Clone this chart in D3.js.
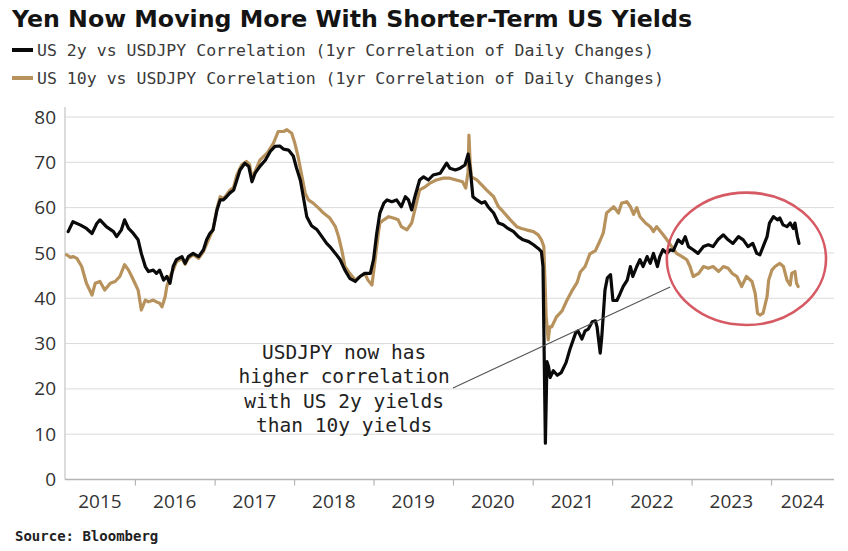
<!DOCTYPE html>
<html>
<head>
<meta charset="utf-8">
<script src="https://cdn.jsdelivr.net/npm/d3@7"></script>
<style>
  html, body { margin: 0; padding: 0; background: #ffffff; }
  svg { display: block; }
</style>
</head>
<body>
<svg id="chart" width="848" height="551"></svg>
<script>
// ---------------- DATA ----------------
const title = "Yen Now Moving More With Shorter-Term US Yields";
const seriesNames = [
  "US 2y vs USDJPY Correlation (1yr Correlation of Daily Changes)",
  "US 10y vs USDJPY Correlation (1yr Correlation of Daily Changes)"
];
const sourceText = "Source: Bloomberg";
const yTicks = [0, 10, 20, 30, 40, 50, 60, 70, 80];
const xYears = [2015, 2016, 2017, 2018, 2019, 2020, 2021, 2022, 2023, 2024];
const annotationLines = ["USDJPY now has", "higher correlation", "with US 2y yields", "than 10y yields"];

// [decimal year, correlation]
const us2y = [
  [2015.16,54.7],[2015.22,56.9],[2015.31,56.2],[2015.39,55.4],[2015.46,54.3],[2015.52,56.5],[2015.56,57.3],
  [2015.64,55.8],[2015.73,54.7],[2015.77,53.6],[2015.83,55.1],[2015.87,57.3],[2015.92,55.4],[2015.98,54.3],
  [2016.04,52.9],[2016.08,49.9],[2016.13,47.0],[2016.17,45.9],[2016.23,46.2],[2016.27,45.5],[2016.31,46.2],
  [2016.36,44.0],[2016.40,44.8],[2016.44,43.3],[2016.48,47.0],[2016.52,48.5],[2016.59,49.2],[2016.63,47.7],
  [2016.67,49.2],[2016.73,49.9],[2016.80,49.2],[2016.86,50.7],[2016.90,52.9],[2016.94,54.3],[2016.98,55.1],
  [2017.03,59.5],[2017.07,61.7],[2017.11,61.7],[2017.15,62.4],[2017.19,63.2],[2017.24,63.9],[2017.28,66.1],
  [2017.32,68.3],[2017.38,69.8],[2017.43,69.1],[2017.47,65.7],[2017.51,67.6],[2017.57,69.1],[2017.64,70.5],
  [2017.70,72.4],[2017.76,73.5],[2017.82,73.6],[2017.87,72.9],[2017.93,72.7],[2017.99,71.4],[2018.03,68.8],
  [2018.08,66.0],[2018.12,62.0],[2018.16,58.0],[2018.22,56.0],[2018.29,55.1],[2018.35,53.6],[2018.41,52.1],
  [2018.45,51.4],[2018.52,49.9],[2018.58,48.5],[2018.64,46.2],[2018.70,44.4],[2018.77,43.7],[2018.83,44.8],
  [2018.89,45.5],[2018.96,45.5],[2019.00,48.5],[2019.04,54.3],[2019.08,58.8],[2019.13,61.0],[2019.17,61.7],
  [2019.23,61.3],[2019.29,61.7],[2019.35,60.2],[2019.40,62.4],[2019.44,61.7],[2019.48,59.5],[2019.52,62.4],
  [2019.58,66.1],[2019.63,66.8],[2019.69,66.1],[2019.75,67.2],[2019.84,67.6],[2019.92,69.8],[2019.96,68.7],
  [2020.03,68.3],[2020.09,68.7],[2020.15,69.4],[2020.19,71.8],[2020.22,67.9],[2020.25,62.4],[2020.30,61.7],
  [2020.36,61.0],[2020.40,61.3],[2020.44,60.2],[2020.51,58.8],[2020.57,56.6],[2020.63,56.2],[2020.69,55.4],
  [2020.76,54.7],[2020.82,53.6],[2020.88,52.9],[2020.95,52.5],[2021.01,51.8],[2021.07,51.0],[2021.11,50.3],
  [2021.13,47.0],[2021.16,8.0],[2021.18,26.0],[2021.20,24.9],[2021.22,22.5],[2021.26,24.0],[2021.31,23.0],
  [2021.36,23.6],[2021.42,25.8],[2021.47,28.8],[2021.54,32.3],[2021.57,32.8],[2021.62,31.0],[2021.66,32.8],
  [2021.70,33.2],[2021.75,34.8],[2021.79,35.0],[2021.81,33.7],[2021.85,27.9],[2021.87,31.5],[2021.91,41.8],
  [2021.94,44.5],[2021.98,45.2],[2022.01,39.5],[2022.06,39.5],[2022.10,41.0],[2022.14,42.6],[2022.19,44.0],
  [2022.23,47.0],[2022.26,44.8],[2022.31,47.0],[2022.35,48.5],[2022.39,47.0],[2022.44,49.2],[2022.48,47.7],
  [2022.52,49.9],[2022.57,47.0],[2022.60,49.2],[2022.64,50.7],[2022.69,49.9],[2022.73,50.7],[2022.77,50.5],
  [2022.83,52.9],[2022.88,52.1],[2022.92,53.6],[2022.96,51.4],[2023.02,50.7],[2023.08,49.9],[2023.15,51.4],
  [2023.21,51.8],[2023.27,51.4],[2023.33,52.9],[2023.40,54.0],[2023.46,52.9],[2023.52,52.1],[2023.59,53.6],
  [2023.65,52.9],[2023.71,51.4],[2023.77,52.1],[2023.82,49.9],[2023.86,49.6],[2023.90,51.4],[2023.95,53.6],
  [2023.98,56.6],[2024.03,58.0],[2024.08,57.3],[2024.11,57.7],[2024.15,56.2],[2024.20,55.8],[2024.24,56.6],
  [2024.28,55.4],[2024.30,56.6],[2024.33,53.6],[2024.35,52.1]
];

const us10y = [
  [2015.14,49.6],[2015.19,49.0],[2015.22,49.2],[2015.27,48.8],[2015.33,47.0],[2015.39,43.3],[2015.46,40.7],
  [2015.50,43.3],[2015.56,43.7],[2015.62,41.8],[2015.69,43.3],[2015.75,43.7],[2015.81,44.8],[2015.87,47.4],
  [2015.92,46.2],[2015.96,44.8],[2016.00,43.3],[2016.04,41.8],[2016.08,37.4],[2016.13,39.6],[2016.17,39.2],
  [2016.23,39.6],[2016.27,39.2],[2016.31,38.9],[2016.34,38.1],[2016.38,40.4],[2016.40,42.6],[2016.44,44.8],
  [2016.48,46.2],[2016.52,48.0],[2016.59,48.8],[2016.63,47.5],[2016.67,48.8],[2016.73,49.6],[2016.80,48.8],
  [2016.86,50.3],[2016.90,52.0],[2016.94,53.6],[2016.98,55.1],[2017.03,59.8],[2017.07,62.4],[2017.11,62.0],
  [2017.15,62.8],[2017.19,63.8],[2017.24,64.5],[2017.28,67.2],[2017.34,69.4],[2017.40,70.2],[2017.44,69.5],
  [2017.47,66.5],[2017.51,68.0],[2017.57,70.5],[2017.66,72.0],[2017.74,74.2],[2017.80,76.8],[2017.87,76.8],
  [2017.91,77.2],[2017.97,76.4],[2018.01,74.2],[2018.05,71.3],[2018.10,66.8],[2018.14,63.2],[2018.18,61.7],
  [2018.24,61.0],[2018.31,59.9],[2018.37,58.8],[2018.45,57.7],[2018.52,55.8],[2018.56,53.6],[2018.60,50.7],
  [2018.64,47.0],[2018.70,45.5],[2018.77,44.0],[2018.83,44.8],[2018.89,45.5],[2018.93,44.0],[2018.98,42.9],
  [2019.02,48.5],[2019.06,54.3],[2019.08,56.6],[2019.13,57.3],[2019.19,58.0],[2019.25,57.7],[2019.31,57.3],
  [2019.35,55.8],[2019.42,55.1],[2019.48,56.6],[2019.52,59.5],[2019.58,63.9],[2019.65,64.6],[2019.71,65.4],
  [2019.79,66.1],[2019.88,66.5],[2019.96,66.5],[2020.04,66.1],[2020.12,65.7],[2020.16,64.3],[2020.19,68.0],
  [2020.20,76.0],[2020.215,70.0],[2020.23,66.8],[2020.30,66.1],[2020.36,65.0],[2020.42,63.9],[2020.51,62.4],
  [2020.57,60.2],[2020.63,59.1],[2020.72,57.3],[2020.80,55.8],[2020.86,55.4],[2020.92,55.1],[2021.01,54.7],
  [2021.07,54.0],[2021.11,52.9],[2021.14,51.4],[2021.17,36.0],[2021.195,30.8],[2021.215,33.7],[2021.24,33.7],
  [2021.30,35.9],[2021.37,37.2],[2021.43,39.5],[2021.49,41.5],[2021.56,43.5],[2021.60,45.8],[2021.66,47.0],
  [2021.72,49.8],[2021.79,50.5],[2021.85,52.8],[2021.89,54.5],[2021.93,58.8],[2021.975,59.5],[2022.02,60.2],
  [2022.08,58.8],[2022.12,61.0],[2022.185,61.3],[2022.23,60.2],[2022.27,58.5],[2022.31,60.0],[2022.35,58.0],
  [2022.42,56.6],[2022.48,55.8],[2022.52,54.7],[2022.56,55.8],[2022.63,54.3],[2022.69,52.9],[2022.75,51.4],
  [2022.81,49.9],[2022.88,49.2],[2022.94,48.5],[2022.98,47.0],[2023.02,44.8],[2023.09,45.5],[2023.15,47.0],
  [2023.21,46.6],[2023.27,47.0],[2023.34,45.9],[2023.40,47.0],[2023.46,46.6],[2023.51,45.5],[2023.57,44.8],
  [2023.63,42.6],[2023.69,44.8],[2023.76,43.7],[2023.80,41.1],[2023.83,36.7],[2023.86,36.3],[2023.90,36.7],
  [2023.95,40.4],[2023.97,44.0],[2024.01,46.2],[2024.05,47.0],[2024.11,47.7],[2024.155,47.0],[2024.20,44.0],
  [2024.24,42.9],[2024.26,45.5],[2024.30,45.9],[2024.32,43.3],[2024.34,42.6]
];

// annotation anchors, in data units
const xDomainYears = [2015.12, 2024.79];
const highlightEllipse = { year: 2023.69, value: 48.7, rYears: 1.0, rValue: 14.6 };
const pointerLine = [[2020.0, 20.2], [2022.73, 42.5]];
const annotationAnchor = { year: 2018.63, value: 26.7 };

// ---------------- DRAW ----------------
(function () {
const toDate = yv => {
  const yr = Math.floor(yv);
  const s = Date.UTC(yr, 0, 1), e = Date.UTC(yr + 1, 0, 1);
  return new Date(s + (yv - yr) * (e - s));
};

const W = 848, H = 551;
const plotL = 65, plotR = 834, plotT = 117, plotB = 479.5;
const svg = d3.select("#chart");
svg.append("rect").attr("width", W).attr("height", H).attr("fill", "#ffffff");

const x = d3.scaleUtc().domain(xDomainYears.map(toDate)).range([plotL, plotR]);
const y = d3.scaleLinear().domain([0, 80]).range([plotB, plotT]);

// title
svg.append("text")
  .attr("x", 12).attr("y", 27)
  .attr("font-family", "DejaVu Sans, Verdana, sans-serif")
  .attr("font-weight", "bold")
  .attr("font-size", 23.5)
  .attr("fill", "#141414")
  .attr("textLength", 680).attr("lengthAdjust", "spacingAndGlyphs")
  .text(title);

// legend
const legendColors = ["#0a0a0a", "#b8925c"];
seriesNames.forEach((name, i) => {
  const cy = 50 + i * 28;
  svg.append("line")
    .attr("x1", 12).attr("x2", 33).attr("y1", cy).attr("y2", cy)
    .attr("stroke", legendColors[i]).attr("stroke-width", 4);
  svg.append("text")
    .attr("x", 37).attr("y", cy + 6)
    .attr("font-family", "DejaVu Sans Mono, monospace")
    .attr("font-size", 16.5)
    .attr("fill", "#3a3a3a")
    .attr("textLength", name.length * 9.95).attr("lengthAdjust", "spacingAndGlyphs")
    .text(name);
});

// gridlines
svg.append("g").selectAll("line")
  .data(yTicks.filter(v => v > 0))
  .join("line")
  .attr("x1", plotL).attr("x2", plotR)
  .attr("y1", d => y(d)).attr("y2", d => y(d))
  .attr("stroke", "#dadada").attr("stroke-width", 1);

// y axis
const yAxis = svg.append("g")
  .attr("transform", `translate(${plotL},0)`)
  .call(d3.axisLeft(y).tickValues(yTicks).tickSize(0).tickPadding(9));
yAxis.select(".domain").remove();
yAxis.append("line").attr("x1", 0).attr("x2", 0).attr("y1", plotB).attr("y2", plotT - 10)
  .attr("stroke", "#c4c4c4").attr("stroke-width", 1.2);
yAxis.selectAll("text")
  .attr("font-family", "Open Sans, DejaVu Sans, sans-serif")
  .attr("font-size", 19).attr("fill", "#333");

// x axis
const tickDates = xYears.slice(1).map(yr => toDate(yr));
const xAxis = svg.append("g")
  .attr("transform", `translate(0,${plotB})`)
  .call(d3.axisBottom(x).tickValues(tickDates).tickSize(6).tickFormat(""));
xAxis.select(".domain").attr("stroke", "#b4b4b4").attr("stroke-width", 1.4)
  .attr("d", `M${plotL},0H${plotR}`);
xAxis.selectAll(".tick line").attr("stroke", "#b4b4b4").attr("stroke-width", 1.2);

svg.append("g").selectAll("text")
  .data(xYears)
  .join("text")
  .attr("x", yr => {
    const a = Math.max(x(toDate(yr)), plotL);
    const b = Math.min(x(toDate(yr + 1)), plotR);
    return (a + b) / 2;
  })
  .attr("y", plotB + 22)
  .attr("dy", "0.35em")
  .attr("text-anchor", "middle")
  .attr("font-family", "Open Sans, DejaVu Sans, sans-serif")
  .attr("font-size", 19).attr("fill", "#333")
  .text(yr => yr);

// lines
const line = d3.line().x(d => x(toDate(d[0]))).y(d => y(d[1])).curve(d3.curveLinear);
svg.append("path").datum(us10y)
  .attr("d", line).attr("fill", "none")
  .attr("stroke", legendColors[1]).attr("stroke-width", 3.2)
  .attr("stroke-linejoin", "round").attr("stroke-linecap", "round");
svg.append("path").datum(us2y)
  .attr("d", line).attr("fill", "none")
  .attr("stroke", legendColors[0]).attr("stroke-width", 3.2)
  .attr("stroke-linejoin", "round").attr("stroke-linecap", "round");

// pointer line
svg.append("line")
  .attr("x1", x(toDate(pointerLine[0][0]))).attr("y1", y(pointerLine[0][1]))
  .attr("x2", x(toDate(pointerLine[1][0]))).attr("y2", y(pointerLine[1][1]))
  .attr("stroke", "#555").attr("stroke-width", 1.1);

// highlight ellipse
const ecx = x(toDate(highlightEllipse.year));
svg.append("ellipse")
  .attr("cx", ecx)
  .attr("cy", y(highlightEllipse.value))
  .attr("rx", x(toDate(highlightEllipse.year + highlightEllipse.rYears)) - ecx)
  .attr("ry", y(0) - y(highlightEllipse.rValue))
  .attr("fill", "none")
  .attr("stroke", "#d65a64").attr("stroke-width", 2.6);

// annotation text
const ann = svg.append("text")
  .attr("text-anchor", "middle")
  .attr("font-family", "DejaVu Sans Mono, monospace")
  .attr("font-size", 19.5)
  .attr("fill", "#222");
annotationLines.forEach((t, i) => {
  ann.append("tspan")
    .attr("x", x(toDate(annotationAnchor.year)))
    .attr("y", y(annotationAnchor.value) + i * 24.5)
    .text(t);
});

// source
svg.append("text")
  .attr("x", 15).attr("y", 541)
  .attr("font-family", "DejaVu Sans Mono, monospace")
  .attr("font-weight", "bold")
  .attr("font-size", 14)
  .attr("fill", "#222")
  .text(sourceText);
})();
</script>
</body>
</html>
